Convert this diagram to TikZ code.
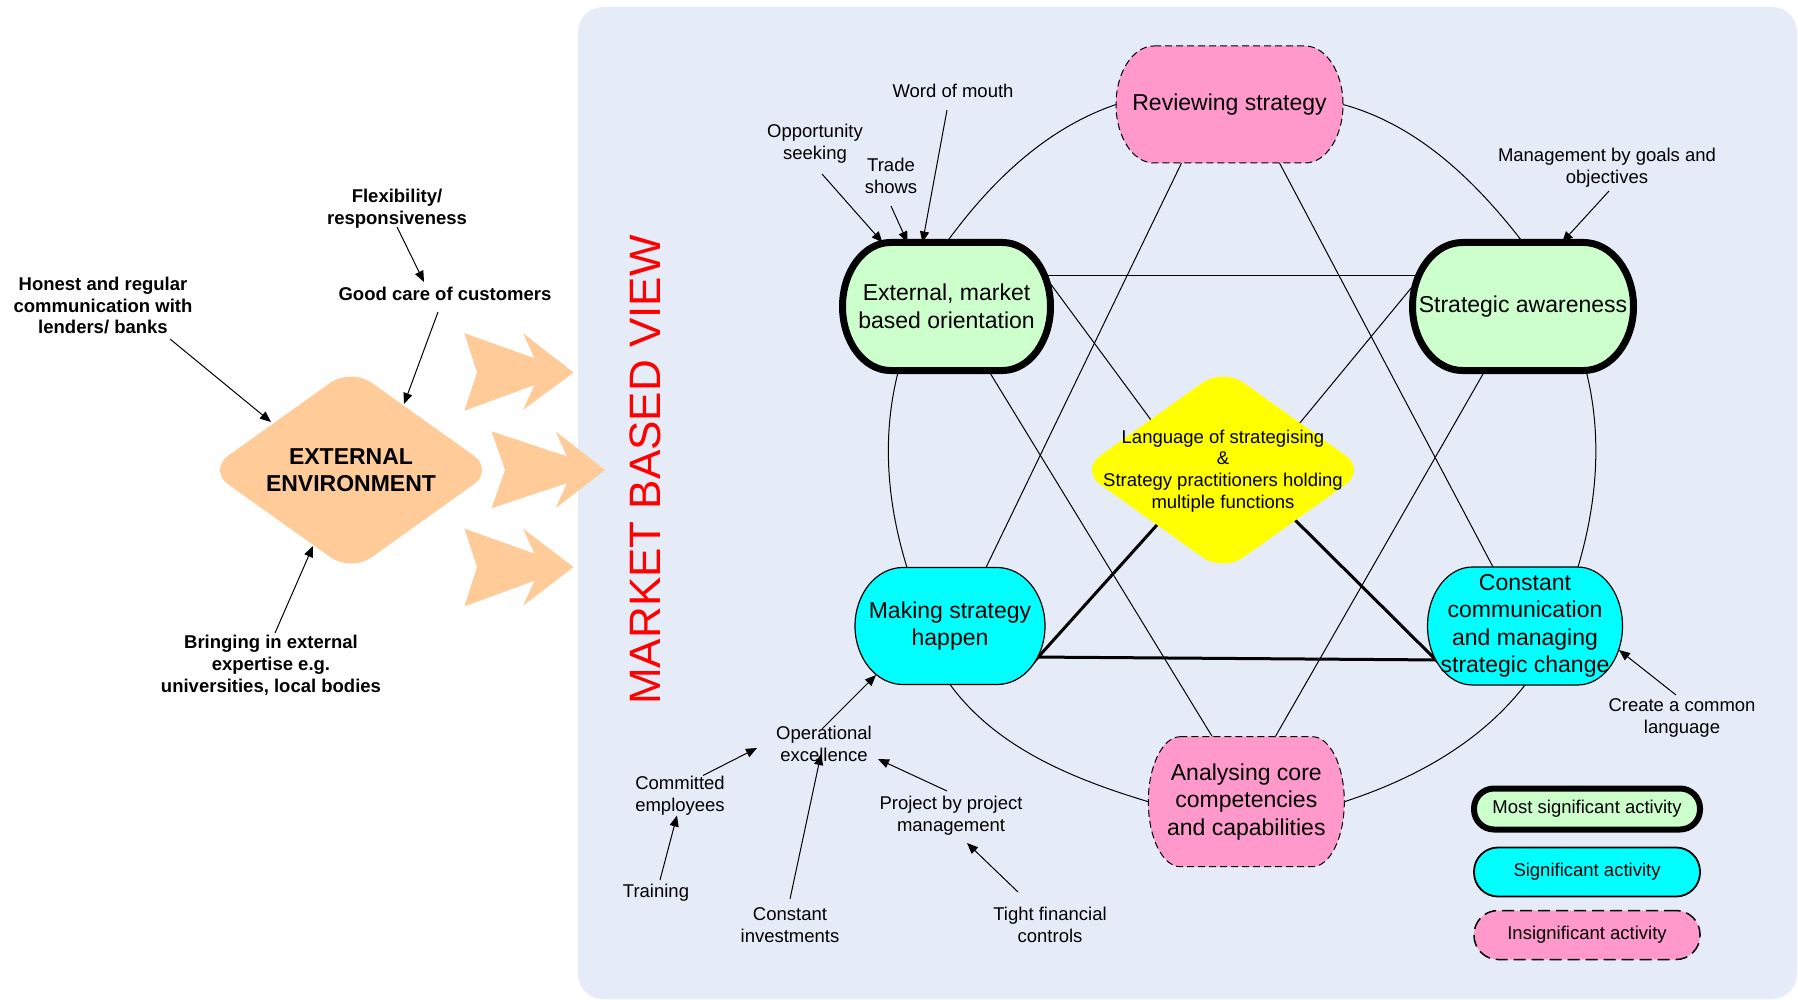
\documentclass[tikz,border=0pt]{standalone}
\usepackage{fontspec}
\setmainfont{Liberation Sans}
\usetikzlibrary{arrows.meta,shapes.geometric}
\definecolor{panelbg}{HTML}{E6ECF7}
\definecolor{envorange}{HTML}{FFCC99}
\definecolor{mgreen}{HTML}{CCFFCC}
\definecolor{mcyan}{HTML}{00FFFF}
\definecolor{mpink}{HTML}{FF99CC}
\definecolor{myellow}{HTML}{FFFF00}
\definecolor{mred}{HTML}{FF0000}
\pgfdeclarelayer{back}
\pgfdeclarelayer{mid}
\pgfdeclarelayer{shapes}
\pgfsetlayers{back,mid,shapes,main}
% barrel outline (rounded box with elliptical corners) around a named node
\newcommand{\barrelshape}[4]{%
  \path[#1] ([xshift=#3pt]#2.north west) -- ([xshift=-#3pt]#2.north east)
    .. controls ([xshift=-0.4477*#3pt]#2.north east) and ([yshift=0.5523*#4pt]#2.east) .. (#2.east)
    .. controls ([yshift=-0.5523*#4pt]#2.east) and ([xshift=-0.4477*#3pt]#2.south east) .. ([xshift=-#3pt]#2.south east)
    -- ([xshift=#3pt]#2.south west)
    .. controls ([xshift=0.4477*#3pt]#2.south west) and ([yshift=-0.5523*#4pt]#2.west) .. (#2.west)
    .. controls ([yshift=0.5523*#4pt]#2.west) and ([xshift=0.4477*#3pt]#2.north west) .. cycle;}
\tikzset{
  act/.style={rectangle, align=center, inner sep=0pt, outer sep=0pt,
    font=\fontsize{23}{27.5}\selectfont},
  mostline/.style={fill=mgreen, draw=black, line width=7pt},
  sigline/.style={fill=mcyan, draw=black, line width=1.2pt},
  insigline/.style={fill=mpink, draw=black, line width=1pt, dash pattern=on 7pt off 4pt},
  ann/.style={align=center, inner sep=0pt, font=\fontsize{18.5}{22.4}\selectfont},
  bann/.style={align=center, inner sep=0pt, font=\bfseries\fontsize{18.5}{21.8}\selectfont},
  conn/.style={line width=1pt},
  thickconn/.style={line width=3pt},
  annarrow/.style={line width=1pt, -{Triangle[length=11pt,width=9pt]}},
  diam/.style={diamond, rounded corners=25pt, minimum width=286pt, minimum height=204pt,
    inner sep=0pt, aspect=1.4, align=center},
  legendbox/.style={rectangle, align=center, inner sep=0pt, draw=black,
    minimum width=226pt, font=\fontsize{18.5}{22}\selectfont},
}
\begin{document}
\begin{tikzpicture}[x=1pt,y=-1pt]
\useasboundingbox (0,0) rectangle (1798,1000);
\begin{pgfonlayer}{back}
\fill[white] (0,0) rectangle (1798,1000);
\fill[panelbg, rounded corners=25pt] (578,7) rectangle (1797,999);
\end{pgfonlayer}

% chevrons
\fill[envorange] (464.4,333.2) -- (534.5,358.2) -- (523,333.2) -- (573.6,372.5) -- (523,410) -- (534.5,385) -- (464.4,410.7) -- (477,372.5) -- cycle;
\fill[envorange] (491.6,431.4) -- (567,456.4) -- (555.6,431.4) -- (605,470) -- (555.6,508.2) -- (567,483.2) -- (491.6,508.2) -- (505,470) -- cycle;
\fill[envorange] (464.4,528.6) -- (534.5,553.6) -- (523,528.6) -- (573.6,567.1) -- (523,605.7) -- (534.5,580.7) -- (464.4,606.4) -- (477,567.1) -- cycle;

% left side
\node[diam, fill=envorange, font=\bfseries\fontsize{23}{27.5}\selectfont] (env) at (351,470) {EXTERNAL\\ENVIRONMENT};
\node[bann] (flex) at (397,209) {Flexibility/\\responsiveness};
\node[bann] (gcc) at (445,293.5) {Good care of customers};
\node[bann] (hon) at (103,305.5) {Honest and regular\\communication with\\lenders/ banks};
\node[bann] (bri) at (271,665) {Bringing in external\\expertise e.g.\\universities, local bodies};

\node[rotate=90, text=mred, inner sep=0pt, font=\fontsize{44}{53}\selectfont] (mbv) at (645,470) {MARKET BASED VIEW};

% activities (text boxes; outlines drawn below)
\node[act, minimum width=227pt, minimum height=117pt] (rev) at (1229.5,104.5) {\raisebox{-3pt}{Reviewing strategy}};
\node[act, minimum width=208pt, minimum height=128pt] (ext) at (946.5,306.5) {External, market\\based orientation};
\node[act, minimum width=221pt, minimum height=128pt] (sa) at (1523,306.5) {\raisebox{-2pt}{Strategic awareness}};
\node[act, minimum width=190pt, minimum height=117pt] (mak) at (950,626) {Making strategy\\happen};
\node[act, minimum width=195pt, minimum height=118pt] (cc) at (1525,626) {Constant\\communication\\and managing\\strategic change};
\node[act, minimum width=196pt, minimum height=130pt] (an) at (1246.3,801.7) {Analysing core\\competencies\\and capabilities};
\node[diam, fill=myellow] (lang) at (1223,470) {};
\node[ann, font=\fontsize{18.5}{21.7}\selectfont] (langtxt) at (1223,471) {Language of strategising\\\&\\Strategy practitioners holding\\multiple functions};

\begin{pgfonlayer}{shapes}
\barrelshape{insigline}{rev}{38}{58.5}
\barrelshape{mostline}{ext}{48}{64}
\barrelshape{mostline}{sa}{50}{64}
\barrelshape{sigline}{mak}{48}{58.5}
\barrelshape{sigline}{cc}{45}{59}
\barrelshape{insigline}{an}{32}{65}
\end{pgfonlayer}

% annotations
\node[ann] (wom) at (953,91) {Word of mouth};
\node[ann] (opp) at (815,144) {Opportunity\\seeking};
\node[ann] (trade) at (891,176) {Trade\\shows};
\node[ann] (mbg) at (1607,168) {Management by goals and\\objectives};
\node[ann] (ccl) at (1682,718) {Create a common\\language};
\node[ann] (opx) at (824,744) {Operational\\excellence};
\node[ann] (com) at (680,795.5) {Committed\\employees};
\node[ann] (trn) at (656,893) {Training};
\node[ann] (cinv) at (790,925) {Constant\\investments};
\node[ann] (pbp) at (951,816) {Project by project\\management};
\node[ann] (tfc) at (1050,925) {Tight financial\\controls};

% legend
\node[legendbox, fill=mgreen, line width=6pt, rounded corners=20pt, minimum height=41pt] (lg1) at (1587,809) {Most significant activity};
\node[legendbox, fill=mcyan, line width=1.8pt, rounded corners=24pt, minimum height=49pt] (lg2) at (1587,872) {Significant activity};
\node[legendbox, fill=mpink, line width=1.5pt, dash pattern=on 12pt off 6pt, rounded corners=24pt, minimum height=49pt] (lg3) at (1587,935) {Insignificant activity};

\begin{pgfonlayer}{mid}
% ring
\draw[conn] (ext.north) .. controls (992,180) and (1047,128) .. (rev.west);
\draw[conn] (rev.east) .. controls (1418,125) and (1475.5,181) .. (sa.north);
\draw[conn] ([xshift=63pt]sa.south) .. controls (1602.6,436) and (1597,503) .. ([xshift=53pt]cc.north);
\draw[conn] (cc.south) .. controls (1480,743) and (1414,779) .. (an.east);
\draw[conn] (an.west) .. controls (1073,779) and (996.5,748) .. (mak.south);
\draw[conn] ([xshift=-43pt]mak.north) .. controls (887,503) and (881.4,436) .. ([xshift=-48pt]ext.south);
% star
\draw[conn] ([xshift=-48pt]rev.south) -- ([xshift=36pt]mak.north);
\draw[conn] ([xshift=50pt]rev.south) -- ([xshift=-32pt]cc.north);
\draw[conn] ([xshift=42pt]ext.south) -- ([xshift=-34pt]an.north);
\draw[conn] ([xshift=-38pt]sa.south) -- ([xshift=29pt]an.north);
\draw[conn] ([shift={(60,-31)}]ext.center) -- ([shift={(-60,-31)}]sa.center);
\draw[conn] ([shift={(92,-39)}]ext.center) -- ([shift={(-72,-50)}]lang.center);
\draw[conn] ([shift={(-101.5,-31)}]sa.center) -- ([shift={(76,-46)}]lang.center);
% thick triangle
\draw[thickconn] ([shift={(-58,46)}]lang.center) -- ([shift={(82,38)}]mak.center);
\draw[thickconn] ([shift={(65,43)}]lang.center) -- ([shift={(-85,38)}]cc.center);
\draw[thickconn] ([shift={(81,31)}]mak.center) -- ([shift={(-82,34)}]cc.center);
\end{pgfonlayer}

% annotation arrows
\draw[annarrow] ([shift={(-6,19)}]wom.center) -- ([xshift=-24pt]ext.north);
\draw[annarrow] ([shift={(7,30)}]opp.center) -- ([shift={(-64,-64)}]ext.center);
\draw[annarrow] ([shift={(0,30)}]trade.center) -- ([xshift=-39pt]ext.north);
\draw[annarrow] ([shift={(2,23)}]mbg.center) -- ([xshift=39pt]sa.north);
\draw[annarrow] ([shift={(-6,-23)}]ccl.center) -- ([shift={(94,24)}]cc.center);
\draw[annarrow] ([shift={(-2,-15)}]opx.center) -- ([shift={(-74,49)}]mak.center);
\draw[annarrow] ([shift={(23,-20)}]com.center) -- ([shift={(-67,4)}]opx.center);
\draw[annarrow] ([shift={(4,-13)}]trn.center) -- ([shift={(-3,20)}]com.center);
\draw[annarrow] ([shift={(0,-26)}]cinv.center) -- ([shift={(-3,10)}]opx.center);
\draw[annarrow] ([shift={(-4,-25)}]pbp.center) -- ([shift={(54,15)}]opx.center);
\draw[annarrow] ([shift={(-32,-33)}]tfc.center) -- ([shift={(16,27)}]pbp.center);
\draw[annarrow] ([shift={(0,18)}]flex.center) -- ([shift={(-21,-11.5)}]gcc.center);
\draw[annarrow] ([shift={(-7,18.5)}]gcc.center) -- ([shift={(53,-66)}]env.center);
\draw[annarrow] ([shift={(67,33.5)}]hon.center) -- ([shift={(-80,-48)}]env.center);
\draw[annarrow] ([shift={(4,-32)}]bri.center) -- ([shift={(-38,76)}]env.center);
\end{tikzpicture}
\end{document}
